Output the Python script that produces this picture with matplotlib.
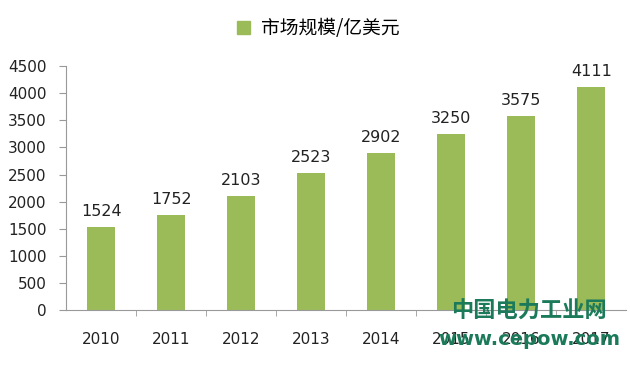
import matplotlib.pyplot as plt
from matplotlib.patches import Patch

plt.rcParams['font.family'] = ['DejaVu Sans', 'Noto Sans CJK SC']

years = ['2010', '2011', '2012', '2013', '2014', '2015', '2016', '2017']
market = [1524, 1752, 2103, 2523, 2902, 3250, 3575, 4111]
series_name = '市场规模/亿美元'

fig = plt.figure(figsize=(6.3, 3.67), dpi=100)
ax = fig.add_axes([0.105, 0.155, 0.889, 0.665])

x = range(len(years))
bars = ax.bar(x, market, width=0.4, color='#9BBB59', label=series_name)

for xi, v in zip(x, market):
    ax.text(xi, v + 150, str(v), ha='center', va='bottom', fontsize=11.5, color='#222222')

ax.set_xlim(-0.5, len(years) - 0.5)
ax.set_ylim(0, 4500)
ax.set_yticks(range(0, 4501, 500))
ax.set_xticks(list(x))
ax.set_xticklabels(years)
ax.set_xticks([i + 0.5 for i in range(len(years) - 1)], minor=True)
ax.tick_params(axis='x', which='major', length=0, pad=16, labelsize=11, labelcolor='#222222')
ax.tick_params(axis='x', which='minor', length=4, color='#999999')
ax.tick_params(axis='y', length=5, pad=9, color='#999999', labelsize=11, labelcolor='#222222')

for s in ['top', 'right']:
    ax.spines[s].set_visible(False)
for s in ['left', 'bottom']:
    ax.spines[s].set_color('#999999')

ax.legend(handles=[Patch(color='#9BBB59', label=series_name)],
          loc='lower center', bbox_to_anchor=(0.45, 1.04), frameon=False,
          handlelength=0.7, handleheight=0.7, handletextpad=0.6,
          prop={'family': ['Noto Sans CJK SC'], 'size': 13.5})

# watermark
fig.text(0.84, 0.152, '中国电力工业网', ha='center', va='center', fontsize=16,
         color='#1b7a5a', fontweight='bold', family=['Noto Sans CJK SC'])
fig.text(0.84, 0.075, 'www.cepow.com', ha='center', va='center', fontsize=14,
         color='#1b7a5a', fontweight='bold')

fig.savefig('out.png', dpi=100)
